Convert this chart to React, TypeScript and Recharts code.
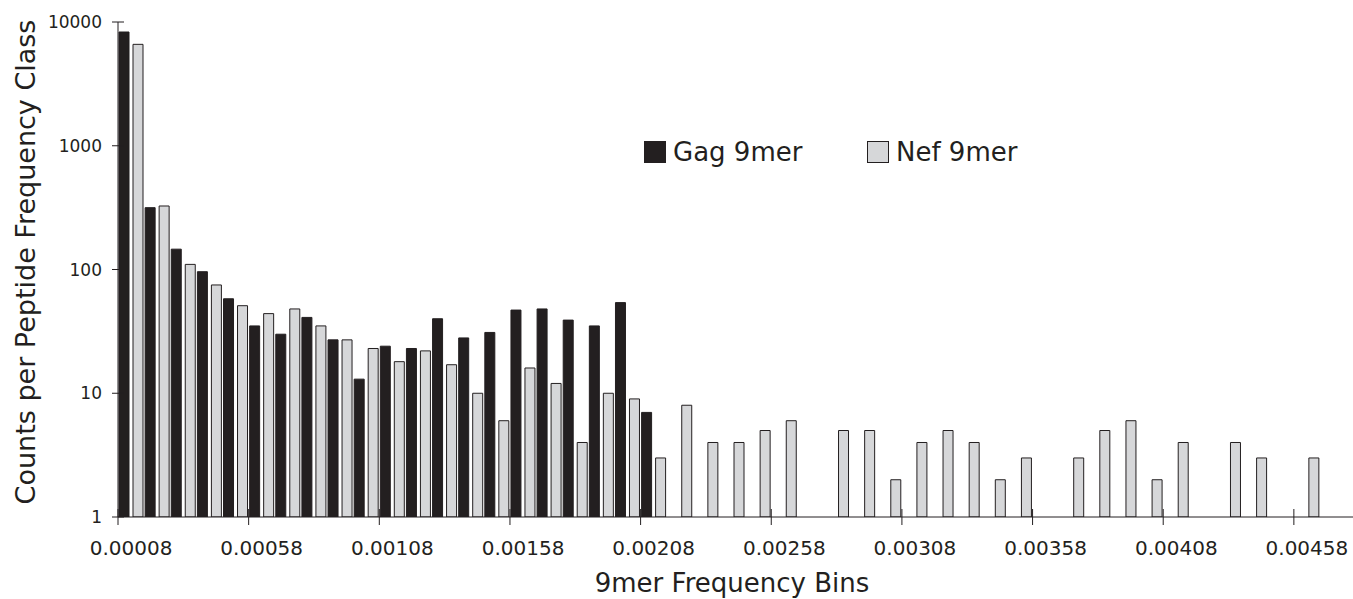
import React from 'react';
import { BarChart, Bar, XAxis, YAxis, Legend } from 'recharts';

// ---------- data ----------
const CATEGORIES = [
  '0.00008', '0.00018', '0.00028', '0.00038', '0.00048', '0.00058', '0.00068', '0.00078', '0.00088', '0.00098',
  '0.00108', '0.00118', '0.00128', '0.00138', '0.00148', '0.00158', '0.00168', '0.00178', '0.00188', '0.00198',
  '0.00208', '0.00218', '0.00228', '0.00238', '0.00248', '0.00258', '0.00268', '0.00278', '0.00288', '0.00298',
  '0.00308', '0.00318', '0.00328', '0.00338', '0.00348', '0.00358', '0.00368', '0.00378', '0.00388', '0.00398',
  '0.00408', '0.00418', '0.00428', '0.00438', '0.00448', '0.00458',
];

const GAG_9MER: (number | null)[] = [
  8300, 316, 146, 96, 58, 35, 30, 41, 27, 13,
  24, 23, 40, 28, 31, 47, 48, 39, 35, 54,
  7, null, null, null, null, null, null, null, null, null,
  null, null, null, null, null, null, null, null, null, null,
  null, null, null, null, null, null,
];

const NEF_9MER: (number | null)[] = [
  6600, 326, 110, 75, 51, 44, 48, 35, 27, 23,
  18, 22, 17, 10, 6, 16, 12, 4, 10, 9,
  3, 8, 4, 4, 5, 6, null, 5, 5, 2,
  4, 5, 4, 2, 3, null, 3, 5, 6, 2,
  4, null, 4, 3, null, 3,
];

const Y_TICKS = [1, 10, 100, 1000, 10000];

const SERIES_NAMES = ['Gag 9mer', 'Nef 9mer'];
const X_TITLE = '9mer Frequency Bins';
const Y_TITLE = 'Counts per Peptide Frequency Class';

const data = CATEGORIES.map((bin, i) => ({
  bin,
  gag: GAG_9MER[i],
  nef: NEF_9MER[i],
}));

// ---------- layout / style ----------
const W = 1353;
const H = 599;
const Y_AXIS_W = 118;
const X_AXIS_H = 82;
const TOP = 22;
const PAD_RIGHT = 33;
const BAND = (W - Y_AXIS_W - PAD_RIGHT) / CATEGORIES.length;
const INK = '#231f20';
const NEF_FILL = '#d6d7d9';
const FONT = '"DejaVu Sans", Verdana, sans-serif';

const YTick = (props: any) => {
  const { x, y, payload } = props;
  return (
    <g>
      <line x1={x - 6} x2={x + 6} y1={y} y2={y} stroke={INK} strokeWidth={1} />
      <text x={x - 16} y={y} textAnchor="end" dominantBaseline="central" fontSize={17} fontFamily={FONT} fill={INK}>
        {payload.value}
      </text>
    </g>
  );
};

const XTick = (props: any) => {
  const { x, y, payload } = props;
  const edge = x - BAND / 2;
  return (
    <g>
      <line x1={edge} x2={edge} y1={y - 8} y2={y + 8} stroke={INK} strokeWidth={1} />
      <text x={x} y={y + 31} textAnchor="middle" dominantBaseline="central" fontSize={20} fontFamily={FONT} fill={INK}>
        {payload.value}
      </text>
    </g>
  );
};

const XTitle = () => (
  <text x={732} y={592} textAnchor="middle" fontSize={26} fontFamily={FONT} fill={INK}>
    {X_TITLE}
  </text>
);

const YTitle = () => (
  <text
    x={35}
    y={262}
    transform="rotate(-90 35 262)"
    textAnchor="middle"
    fontSize={27}
    fontFamily={FONT}
    fill={INK}
  >
    {Y_TITLE}
  </text>
);

const renderLegend = (props: any) => {
  const { payload } = props;
  return (
    <div style={{ display: 'flex', fontFamily: FONT, fontSize: 26, color: INK, lineHeight: '22px' }}>
      {(payload || []).map((entry: any, i: number) => (
        <div key={i} style={{ display: 'flex', alignItems: 'center', width: 223, height: 22 }}>
          <span
            style={{
              display: 'inline-block',
              width: 22,
              height: 22,
              boxSizing: 'border-box',
              background: entry.color,
              border: `1px solid ${INK}`,
              marginRight: 7,
            }}
          />
          <span style={{ whiteSpace: 'nowrap' }}>{entry.value}</span>
        </div>
      ))}
    </div>
  );
};

export default function App() {
  return (
    <div style={{ position: 'absolute', left: 0, top: 0, width: W, height: H, background: '#fff' }}>
      <BarChart
        width={W}
        height={H}
        data={data}
        margin={{ top: TOP, right: 0, bottom: 0, left: 0 }}
        barSize={10}
        barGap={4}
      >
        <XAxis
          dataKey="bin"
          type="category"
          height={X_AXIS_H}
          padding={{ left: 0, right: PAD_RIGHT }}
          interval={4}
          tick={<XTick />}
          tickLine={false}
          tickSize={0}
          tickMargin={0}
          axisLine={{ stroke: INK, strokeWidth: 1 }}
          label={<XTitle />}
        />
        <YAxis
          type="number"
          scale="log"
          domain={[1, 10000]}
          ticks={Y_TICKS}
          allowDataOverflow
          width={Y_AXIS_W}
          tick={<YTick />}
          tickLine={false}
          tickSize={0}
          tickMargin={0}
          axisLine={{ stroke: INK, strokeWidth: 1 }}
          label={<YTitle />}
        />
        <Legend
          layout="horizontal"
          verticalAlign="middle"
          align="center"
          content={renderLegend}
          wrapperStyle={{ position: 'absolute', left: 644, top: 141, width: 460, height: 22 }}
        />
        <Bar dataKey="gag" name={SERIES_NAMES[0]} fill={INK} stroke={INK} strokeWidth={1} isAnimationActive={false} />
        <Bar dataKey="nef" name={SERIES_NAMES[1]} fill={NEF_FILL} stroke={INK} strokeWidth={1} isAnimationActive={false} />
      </BarChart>
    </div>
  );
}
